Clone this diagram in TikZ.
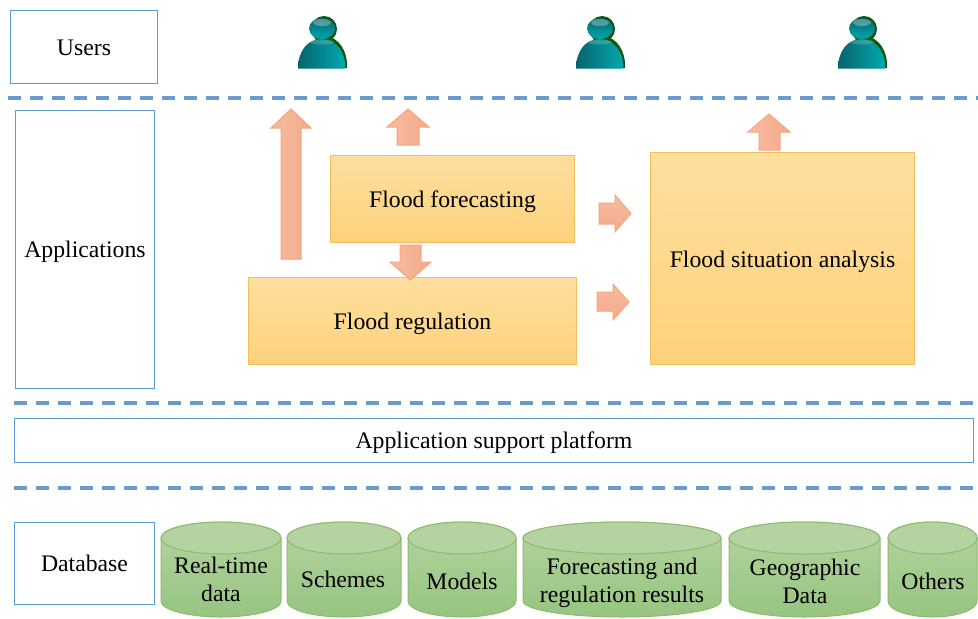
\documentclass[tikz,border=0pt]{standalone}
\usepackage{fontspec}
\setmainfont{Liberation Serif}
\usetikzlibrary{shapes.geometric}
\definecolor{linkblue}{HTML}{5B9BD5}
\definecolor{dashblue}{HTML}{6A9BCF}
\definecolor{yedge}{HTML}{F2C05A}
\definecolor{ytop}{HTML}{FEDF9F}
\definecolor{ybot}{HTML}{FDD27C}
\definecolor{aedge}{HTML}{F4A67E}
\definecolor{aleft}{HTML}{F7BCA0}
\definecolor{aright}{HTML}{F4A98A}
\definecolor{gedge}{HTML}{8DBB6E}
\definecolor{gtop}{HTML}{B5D3A0}
\definecolor{gbot}{HTML}{96C580}
\definecolor{gcap}{HTML}{B5D3A0}
\definecolor{pgreen}{HTML}{0B5A0B}
\definecolor{pdark}{HTML}{06646C}
\definecolor{pbright}{HTML}{02A9B0}
\definecolor{phead}{HTML}{0AA0A8}
\tikzset{
  x=0.75pt,y=-0.75pt,
  every node/.style={font=\fontsize{17.8}{21}\selectfont,text=black,align=center,inner sep=0pt,text height=16pt,text depth=3.2pt},
  twoline/.style={text height=,text depth=},
  layerbox/.style={draw=linkblue,line width=0.75pt,fill=white},
  flowbox/.style={draw=yedge,line width=0.75pt,top color=ytop,bottom color=ybot},
  sep/.style={draw=dashblue,line width=2.6pt,dash pattern=on 9.9pt off 6.6pt},
  blockV/.style={draw=aedge,line width=0.75pt,left color=aleft,right color=aright},
  blockH/.style={draw=aedge,line width=0.75pt,top color=aleft,bottom color=aright},
  dbside/.style={draw=gedge,line width=0.75pt,top color=gtop,bottom color=gbot},
  dbcap/.style={draw=gedge,line width=0.75pt,fill=gcap},
}
% cylinder: left, right
\newcommand{\dbcyl}[2]{%
  \pgfmathsetmacro{\cx}{(#1+#2)/2}\pgfmathsetmacro{\rx}{(#2-#1)/2}%
  \path[dbside] (#1,538) -- (#1,601) arc[start angle=180,end angle=360,x radius=\rx,y radius=-16] -- (#2,538) arc[start angle=0,end angle=180,x radius=\rx,y radius=-16] -- cycle;
  \path[dbcap] (\cx,538) ellipse[x radius=\rx,y radius=-16];
}
% person: x offset
\newcommand{\person}[1]{%
  \begin{scope}[shift={(#1,0)}]
    \fill[pgreen] (324,29) ellipse[x radius=13,y radius=-13];
    \fill[pgreen] (304,68) .. controls (304,50) and (312,36.5) .. (325,36.5) .. controls (339,36.5) and (348,52) .. (347,68) -- cycle;
    \shade[top color=pdark,bottom color=pbright] (322,28.5) ellipse[x radius=13,y radius=-10.5];
    \shade[left color=pdark,right color=pbright] (298,68.5) .. controls (298,52) and (307,39) .. (321,39) .. controls (336,39) and (346,52) .. (345,68.5) -- cycle;
    \fill[white,opacity=.3] (322,22.5) ellipse[x radius=9,y radius=-3.5];
    \fill[white,opacity=.18] (322,42) ellipse[x radius=12,y radius=-2.5];
  \end{scope}
}
\begin{document}
\begin{tikzpicture}
\useasboundingbox (0,0) rectangle (978,618);
% separators
\coordinate (s1a) at (8,98); \coordinate (s1b) at (978,98);
\coordinate (s2a) at (14,403); \coordinate (s2b) at (978,403);
\coordinate (s3a) at (14,488); \coordinate (s3b) at (978,488);
\draw[sep] (s1a) -- (s1b);
\draw[sep] (s2a) -- (s2b);
\draw[sep] (s3a) -- (s3b);
% layer labels
\node[layerbox,minimum width=110.4pt,minimum height=54.75pt] (users) at (84,46.5) {Users};
\node[layerbox,minimum width=104.4pt,minimum height=208.5pt] (apps) at (85,249) {Applications};
\node[layerbox,minimum width=719.4pt,minimum height=33pt] (platform) at (494,440) {Application support platform};
\node[layerbox,minimum width=105.2pt,minimum height=61.5pt] (database) at (84.5,563) {Database};
% people
\person{0}\person{278}\person{540}
% flow boxes
\node[flowbox,minimum width=183.2pt,minimum height=65.25pt] (forecast) at (452.5,198.5) {Flood forecasting};
\node[flowbox,minimum width=246.2pt,minimum height=65.25pt] (regulation) at (412.5,321) {Flood regulation};
\node[flowbox,minimum width=198.2pt,minimum height=159pt] (situation) at (782.5,258.5) {Flood situation analysis};
% block arrows
\path[blockV] (291,109) -- (311,128) -- (301,128) -- (301,259) -- (281,259) -- (281,128) -- (271,128) -- cycle;
\path[blockV] (408,109) -- (429,127) -- (419,127) -- (419,145) -- (397,145) -- (397,127) -- (387,127) -- cycle;
\path[blockV] (400,245) -- (421,245) -- (421,262) -- (431,262) -- (410.5,280) -- (390,262) -- (400,262) -- cycle;
\path[blockV] (769,114) -- (790,132) -- (780,132) -- (780,150) -- (759,150) -- (759,132) -- (748,132) -- cycle;
\path[blockH] (599,203) -- (615,203) -- (615,195) -- (631,213.5) -- (615,232) -- (615,224) -- (599,224) -- cycle;
\path[blockH] (597,292) -- (613,292) -- (613,284) -- (629,302) -- (613,320) -- (613,311) -- (597,311) -- cycle;
% databases
\dbcyl{161}{281}
\dbcyl{287}{401}
\dbcyl{408}{516}
\dbcyl{523}{721}
\dbcyl{729}{880}
\dbcyl{888}{977}
\node[twoline] (db1) at (221,579) {Real-time\\data};
\node (db2) at (343,579) {Schemes};
\node (db3) at (462,581) {Models};
\node[twoline] (db4) at (622,583) {Forecasting and\\regulation results};
\node[twoline] (db5) at (805,581) {Geographic\\Data};
\node (db6) at (933,581) {Others};
\end{tikzpicture}
\end{document}
